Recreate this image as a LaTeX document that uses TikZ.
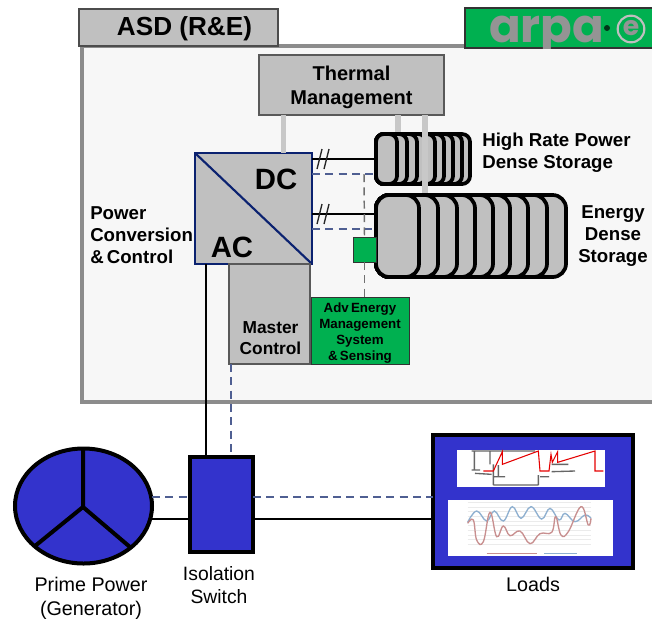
\documentclass[tikz,border=0pt]{standalone}
\usepackage{fontspec}
\setmainfont{Liberation Sans}
\newfontfamily\logofont{Poppins}
\usetikzlibrary{calc}
\definecolor{panel}{HTML}{C0C0C0}
\definecolor{framegray}{HTML}{8C8C8C}
\definecolor{inner}{HTML}{F7F7F7}
\definecolor{navy}{HTML}{0B2270}
\definecolor{dashblue}{HTML}{4F5F92}
\definecolor{agreen}{HTML}{00B050}
\definecolor{royal}{HTML}{3333CC}
\definecolor{pipe}{HTML}{C8C8C8}
\definecolor{dashgray}{HTML}{707070}
\definecolor{wave}{HTML}{8FB0D0}
\definecolor{wine}{HTML}{C88F8F}
\def\P{0.75pt}
\tikzset{
  pxbox/.style 2 args={minimum width=#1*\P,minimum height=#2*\P,inner sep=0pt,outer sep=0pt,align=center},
  graybox/.style={draw=black!65,line width=1.1pt,fill=panel},
  greenbox/.style={draw=black!80,line width=0.7pt,fill=agreen},
  bluebox/.style={draw=black,line width=2.4pt,fill=royal},
  conv/.style={draw=navy,line width=2pt,fill=panel},
  pipeline/.style={pipe,line width=4pt},
  bus/.style={black,line width=1.5pt},
  ctrl/.style={dashblue,line width=0.8pt,dash pattern=on 6pt off 4pt},
  ctrlgray/.style={dashgray,line width=1.1pt,dash pattern=on 6pt off 4pt},
  cell/.style={draw=black,line width=2.8pt,fill=panel,rounded corners=6pt},
  tick/.style={black!85,line width=1pt},
  lbl/.style={inner sep=0pt,align=center},
  bsmall/.style={font=\fontsize{14}{16.5}\selectfont\bfseries},
}
\begin{document}
\begin{tikzpicture}[x=0.75pt,y=-0.75pt]
\useasboundingbox (0,0) rectangle (652,618);
\fill[white] (0,0) rectangle (652,618);
% main frame
\draw[draw=framegray,line width=3.4pt,fill=inner] (82,46) rectangle (660,402);
% header
\node[pxbox={199}{37},draw=black!70,line width=1pt,fill=panel] (asd) at (178.5,27.5) {};
\node[lbl,font=\fontsize{19.6}{22}\selectfont\bfseries] (asdl) at (184.5,29) {ASD (R\&E)};
\node[pxbox={190}{40},draw=black!80,line width=1pt,fill=agreen] (logo) at (560,28) {};
\begin{scope}
  \clip (logo.south west) rectangle (logo.north east);
  \node[lbl,anchor=base west,text=black!42,font=\fontsize{35}{38}\logofont\bfseries] (logotext) at (489,42) {arpa};
\end{scope}
\fill[black!70!agreen] (607,28) circle (3);
\node[lbl,circle,draw=black!25,line width=1.6pt,minimum size=20pt,text=black!42,font=\fontsize{20}{22}\logofont\bfseries] (logoe) at (631,29) {\raisebox{1pt}{e}};
% thermal
\node[pxbox={185}{60},graybox] (thermal) at (351.5,85) {};
\node[lbl,font=\fontsize{15}{18}\selectfont\bfseries] (thermall) at (351.5,87) {Thermal\\Management};
% converter
\node[pxbox={117}{111},conv] (conv) at (253.5,208.5) {};
\draw[navy,line width=1.6pt] (conv.north west) -- (conv.south east);
\node[lbl,font=\fontsize{22}{24}\selectfont\bfseries] (dc) at (276,179) {DC};
\node[lbl,font=\fontsize{22}{24}\selectfont\bfseries] (ac) at (232,247) {AC};
% storage
\node[pxbox={98}{54}] (hr) at (423,159) {};
\node[pxbox={194}{85}] (ed) at (471,235.5) {};
\foreach \r in {470,462,453,444,435,426,417,407,397}
  \draw[cell] (376,134) rectangle (\r,184);
\foreach \r in {566,547,528,510,493,475,457,438,419}
  \draw[cell,rounded corners=10pt] (376,195) rectangle (\r,277);
\node[lbl,anchor=west,font=\fontsize{14}{16.5}\selectfont\bfseries,align=left] (hrl) at (482,153) {High Rate Power\\Dense Storage};
\node[lbl,bsmall] (edl) at (613,236) {Energy\\Dense\\Storage};
\node[lbl,anchor=west,bsmall,align=left] (pcl) at (90,235) {Power\\Conversion\\\&\,Control};
% pipes
\draw[pipeline] (thermal.south -| conv.north) ++(30,0) coordinate (t0) -- (t0 |- conv.north);
\draw[pipeline] ($(thermal.south)+(46.5,0)$) coordinate (t1) -- (t1 |- hr.north);
\draw[pipeline] ($(thermal.south)+(73.5,0)$) coordinate (t2) -- (t2 |- ed.north);
% control boxes
\node[pxbox={81}{100},graybox] (master) at (269.5,314) {};
\node[lbl,font=\fontsize{13}{15.75}\selectfont\bfseries] (masterl) at (270.5,338) {Master\\Control};
\node[pxbox={98}{67},greenbox] (aem) at (360,330.5) {};
\node[lbl,font=\fontsize{10}{12}\selectfont\bfseries] (aeml) at (360,333) {Adv\,Energy\\Management\\System\\\&\,Sensing};
\node[pxbox={23}{25},greenbox] (sense) at (364.5,249.5) {};
% buses
\coordinate (c1) at (conv.east |- 0,159);
\coordinate (c2) at (conv.east |- 0,214);
\coordinate (d1) at (conv.east |- 0,174);
\coordinate (d2) at (conv.east |- 0,229);
\coordinate (b1) at (375,159);
\coordinate (b2) at (375,214);
\coordinate (e1) at (374,174);
\coordinate (e2) at (372,229);
\coordinate (j1) at (364,174);
\draw[bus] (c1) -- (b1);
\draw[bus] (c2) -- (b2);
\draw[ctrl] (d1) -- (e1);
\draw[ctrl] (d2) -- (e2);
\draw[ctrlgray] (j1) -- (sense.north);
\draw[ctrlgray] (sense.south) -- (sense.south |- aem.north);
\foreach \y in {159,214}{
  \draw[tick] (317,\y+10) -- (322,\y-10);
  \draw[tick] (324,\y+10) -- (329,\y-10);
}
% lower part
\draw[black,line width=3pt,fill=royal] (83.5,506) ellipse [x radius=68.5,y radius=57.5];
\coordinate (hub) at (83,507);
\draw[black,line width=3pt] (83,449) -- (hub) -- (35,546);
\draw[black,line width=3pt] (hub) -- (130,547);
\node[pxbox={63}{95},bluebox] (iso) at (221.5,504.5) {};
\node[pxbox={200}{133},bluebox] (loads) at (533,501.5) {};
\coordinate (gen1) at (152,519);
\coordinate (gen2) at (152,497);
\draw[bus] (gen1) -- (gen1 -| iso.west);
\draw[bus] (iso.east |- gen1) -- (loads.west |- gen1);
\draw[ctrl] (gen2) -- (gen2 -| iso.west);
\draw[ctrl] (iso.east |- gen2) -- (loads.west |- gen2);
\draw[bus] (conv.south -| 206,0) -- (206,0 |- iso.north);
\draw[ctrl] (master.south -| 231,0) -- (231,0 |- iso.north);
% panels in loads
\node[pxbox={148}{37},fill=white] (p1) at (531,468.5) {};
\node[pxbox={165}{56},fill=white] (p2) at (530.5,528) {};
\begin{scope}[shift={(425,425)},x=0.25pt,y=-0.25pt]
  \draw[black!60,line width=1pt] (140,78) -- (330,78) (148,78) -- (148,135) (195,80) -- (195,118) (205,118) -- (205,180) (205,180) -- (340,180) (340,150) -- (340,180) (345,155) -- (372,155) (380,140) -- (450,138) (220,120) -- (220,155) (205,155) -- (240,155) (150,145) -- (200,148) (140,135) -- (165,135) (380,118) -- (430,118);
  \draw[red!90!black,line width=0.8pt] (175,138) -- (205,138) -- (232,80) -- (232,118) -- (340,78) -- (345,138) -- (372,138) -- (378,88) -- (382,112) -- (398,80) -- (398,112) -- (510,78) -- (510,138) -- (535,138);
  \foreach \y in {232,246,260,274,288,302,316,330,344,358}
    \draw[black!8,line width=0.3pt] (128,\y) -- (498,\y);
  \draw[wave,line width=1pt] plot[smooth,tension=0.7] coordinates {(128,292) (155,258) (185,288) (208,258) (235,288) (262,245) (288,280) (318,245) (350,282) (375,250) (402,285) (420,265) (450,290) (480,270) (498,280)};
  \draw[wine,line width=1pt] plot[smooth,tension=0.7] coordinates {(128,295) (145,285) (155,345) (175,350) (195,262) (215,335) (235,303) (255,332) (285,318) (315,356) (345,326) (380,322) (392,275) (408,330) (430,320) (468,245) (490,300) (498,280)};
  \draw[wine,line width=0.5pt] (185,384) -- (335,384);
  \draw[wave,line width=0.5pt] (358,384) -- (455,384);
\end{scope}
% labels
\node[lbl,font=\fontsize{14.8}{18}\selectfont] (genl) at (91,598.5) {Prime Power\\(Generator)};
\node[lbl,font=\fontsize{14.5}{17.5}\selectfont] (isol) at (219,585) {Isolation\\Switch};
\node[lbl,font=\fontsize{14.8}{18}\selectfont] (loadl) at (533,584) {Loads};
\end{tikzpicture}
\end{document}
